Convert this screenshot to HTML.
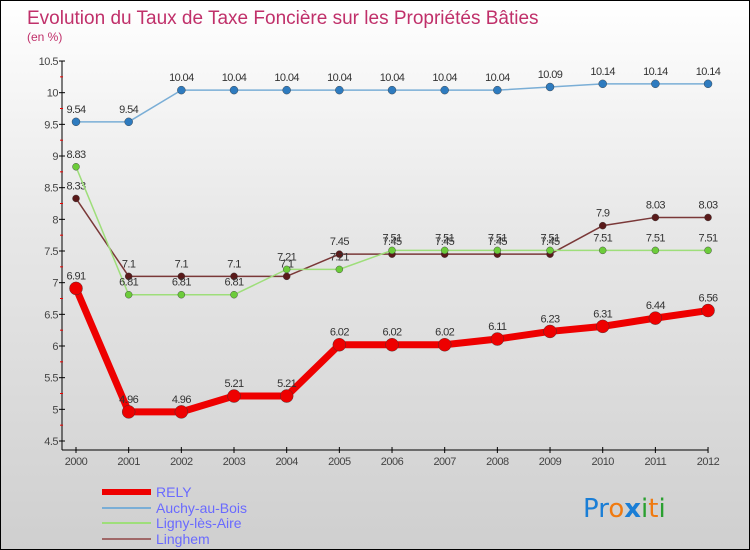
<!DOCTYPE html>
<html><head><meta charset="utf-8"><style>
body{margin:0}
#c{width:750px;height:550px;position:relative;font-family:"Liberation Sans",sans-serif;background:linear-gradient(#ffffff,#e8e8e8 40%,#cfcfcf);border:1px solid #000;box-sizing:border-box;overflow:hidden}
</style></head><body>
<div id="c">
<svg id="s" width="750" height="550" style="position:absolute;left:0;top:0">
<text x="26" y="23" font-size="19" fill="#c0306a">Evolution du Taux de Taxe Foncière sur les Propriétés Bâties</text>
<text x="26" y="40" font-size="12" fill="#c0306a">(en %)</text>
<g id="axes"></g><g id="series"></g>
<g>
<line x1="101" y1="491" x2="150" y2="491" stroke="#e00" stroke-width="6"/>
<text x="155" y="496" font-size="14" fill="#6a6aff">RELY</text>
<line x1="101" y1="507" x2="150" y2="507" stroke="#7aaed6" stroke-width="2"/>
<text x="155" y="512" font-size="14" fill="#6a6aff">Auchy-au-Bois</text>
<line x1="101" y1="522" x2="150" y2="522" stroke="#9ede7a" stroke-width="2"/>
<text x="155" y="527" font-size="14" fill="#6a6aff">Ligny-lès-Aire</text>
<line x1="101" y1="538" x2="150" y2="538" stroke="#a06868" stroke-width="2"/>
<text x="155" y="543" font-size="14" fill="#6a6aff">Linghem</text>
</g>
<text x="582" y="516" font-size="26" font-family="DejaVu Sans"><tspan fill="#1a7ed6">Pr</tspan><tspan fill="#f07a10">o</tspan><tspan fill="#1a7ed6" font-weight="bold">x</tspan><tspan fill="#2aa030">i</tspan><tspan fill="#f07a10">t</tspan><tspan fill="#2aa030">i</tspan></text>
</svg>
</div>
<script>
const years=[2000,2001,2002,2003,2004,2005,2006,2007,2008,2009,2010,2011,2012];
const rely=[6.91,4.96,4.96,5.21,5.21,6.02,6.02,6.02,6.11,6.23,6.31,6.44,6.56];
const auchy=[9.54,9.54,10.04,10.04,10.04,10.04,10.04,10.04,10.04,10.09,10.14,10.14,10.14];
const ligny=[8.83,6.81,6.81,6.81,7.21,7.21,7.51,7.51,7.51,7.51,7.51,7.51,7.51];
const linghem=[8.33,7.1,7.1,7.1,7.1,7.45,7.45,7.45,7.45,7.45,7.9,8.03,8.03];
const yTicks=[4.5,5,5.5,6,6.5,7,7.5,8,8.5,9,9.5,10,10.5];
const NS="http://www.w3.org/2000/svg";
const X=i=>75+i*52.67, Y=v=>440-(v-4.5)*63.33;
function mk(t,a,p){const e=document.createElementNS(NS,t);for(const k in a)e.setAttribute(k,a[k]);p.appendChild(e);return e;}
const ax=document.getElementById('axes'),sg=document.getElementById('series');
const ya=mk('line',{x1:61,y1:60,x2:61,y2:449,stroke:'#000'},ax);

const xa=mk('line',{x1:61,y1:449,x2:707,y2:449,stroke:'#000'},ax);

yTicks.forEach((v,i)=>{const y=Y(v);mk('line',{x1:58,y1:y,x2:64,y2:y,stroke:'#000'},ax);
 if(i<yTicks.length-1)mk('line',{x1:59,y1:Y(v+0.25),x2:62,y2:Y(v+0.25),stroke:'#e00'},ax);
 const t=mk('text',{x:57,y:y+4,'font-size':11,'text-anchor':'end',fill:'#444','letter-spacing':'-0.5'},ax);t.textContent=String(v);
 });
years.forEach((yr,i)=>{const x=X(i);mk('line',{x1:x,y1:446,x2:x,y2:452,stroke:'#000'},ax);
 const t=mk('text',{x:x,y:464,'font-size':11,'text-anchor':'middle',fill:'#444','letter-spacing':'-0.5'},ax);t.textContent=yr;
 });
function draw(name,data,color,dot,w,r){
 const g=mk('g',{},sg);
 mk('polyline',{points:data.map((v,i)=>X(i)+','+Y(v)).join(' '),fill:'none',stroke:color,'stroke-width':w,'stroke-linejoin':'round'},g);
 data.forEach((v,i)=>{const c=mk('circle',{cx:X(i),cy:Y(v),r:r,fill:dot,stroke:'#333','stroke-width':0.4},g);
  
  const t=mk('text',{x:X(i),y:Y(v)-9,'font-size':11,'text-anchor':'middle',fill:'#333','letter-spacing':'-0.6'},g);t.textContent=String(v);
  });
}
draw('auchy',auchy,'#7aaed6','#2e7bbf',1.5,4);
draw('linghem',linghem,'#7a3838','#5a1a1a',1.5,3.5);
draw('ligny',ligny,'#9ede7a','#6ccc3a',1.5,3.5);
draw('rely',rely,'#ee0000','#ee0000',7,6.5);
</script>
</body></html>
